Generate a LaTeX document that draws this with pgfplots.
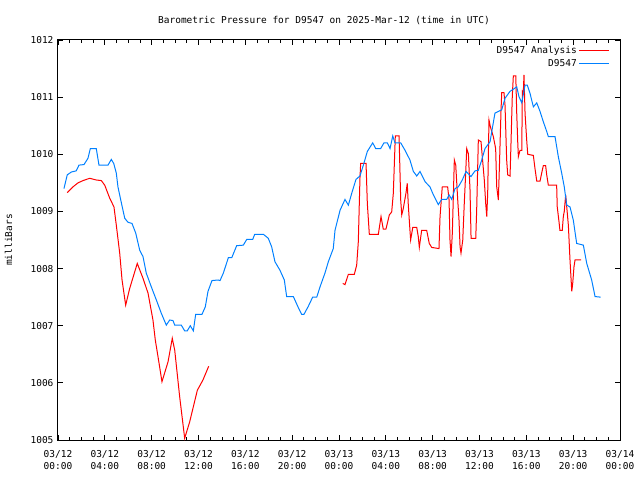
\documentclass[border=0pt]{standalone}
\usepackage{pgfplots}
\pgfplotsset{compat=1.18}
\usepackage{fontspec}
\setmainfont{DejaVu Sans Mono}
\definecolor{gpblue}{RGB}{0,128,255}
\definecolor{gpred}{RGB}{255,0,0}
\begin{document}
\begin{tikzpicture}
\path[use as bounding box] (-58pt,-40pt) rectangle (582pt,440pt);
\begin{axis}[
  at={(0pt,0pt)}, anchor=south west,
  scale only axis, width=562pt, height=400pt,
  xmin=0, xmax=48, ymin=1005, ymax=1012,
  xtick={0,4,...,48}, minor xtick={0,1,...,48},
  ytick={1005,1006,...,1012},
  xticklabels={{03/12\\00:00},{03/12\\04:00},{03/12\\08:00},{03/12\\12:00},{03/12\\16:00},{03/12\\20:00},{03/13\\00:00},{03/13\\04:00},{03/13\\08:00},{03/13\\12:00},{03/13\\16:00},{03/13\\20:00},{03/14\\00:00}},
  yticklabels={1005,1006,1007,1008,1009,1010,1011,1012},
  tick align=inside,
  major tick length=5pt, minor tick length=3pt,
  every tick/.style={black, line width=0.8pt},
  axis line style={black, line width=1pt},
  tick label style={font=\fontsize{9.5}{12}\selectfont},
  xticklabel style={align=center, yshift=-7pt},
  yticklabel style={xshift=-1pt},
  title={Barometric Pressure for D9547 on 2025-Mar-12 (time in UTC)},
  title style={at={(axis description cs:0.4733,1.033)}, anchor=center, font=\fontsize{9.5}{11}\selectfont},
  ylabel={milliBars},
  ylabel style={at={(axis description cs:-0.088,0.5)}, anchor=center, font=\fontsize{9.5}{11}\selectfont},
  legend style={draw=none, fill=none, at={(0.9822,0.99)}, anchor=north east, font=\fontsize{9.5}{11}\selectfont, row sep=0pt, inner sep=0pt, /tikz/every even column/.append style={column sep=6pt}},
  legend cell align=right,
  legend plot pos=right,
  legend image code/.code={\draw[#1] (0pt,0pt) -- (30pt,0pt);},
]
\addplot[gpred, line width=1pt] coordinates {
(0.79,1009.33)(1.28,1009.43)(1.71,1009.50)(2.14,1009.54)(2.71,1009.58)(3.27,1009.55)(3.70,1009.54)(3.99,1009.46)(4.42,1009.23)(4.78,1009.08)(4.98,1008.76)(5.27,1008.27)(5.47,1007.80)(5.78,1007.36)(6.12,1007.65)(6.77,1008.09)(7.26,1007.83)(7.69,1007.57)(8.11,1007.10)(8.31,1006.75)(8.54,1006.46)(8.88,1006.02)(9.40,1006.37)(9.76,1006.78)(9.97,1006.57)(10.39,1005.76)(10.82,1005.03)(11.25,1005.32)(11.90,1005.87)(12.38,1006.05)(12.87,1006.29)
};
\addlegendentry{D9547 Analysis}
\addplot[gpred, line width=1pt, forget plot] coordinates {
(24.32,1007.74)(24.51,1007.72)(24.80,1007.90)(25.31,1007.90)(25.51,1008.06)(25.65,1008.47)(25.79,1009.58)(25.85,1009.84)(26.31,1009.84)(26.42,1009.14)(26.59,1008.60)(27.36,1008.60)(27.50,1008.79)(27.59,1008.91)(27.78,1008.69)(28.01,1008.69)(28.30,1008.94)(28.50,1008.99)(28.64,1009.32)(28.81,1010.32)(29.13,1010.32)(29.27,1009.20)(29.36,1008.94)(29.49,1009.05)(29.72,1009.32)(29.83,1009.49)(29.92,1009.11)(30.06,1008.67)(30.12,1008.50)(30.30,1008.72)(30.64,1008.72)(30.77,1008.56)(30.86,1008.37)(31.06,1008.67)(31.49,1008.67)(31.71,1008.44)(31.92,1008.37)(32.54,1008.35)(32.63,1008.91)(32.82,1009.43)(33.28,1009.43)(33.40,1009.20)(33.48,1008.50)(33.57,1008.21)(33.68,1008.62)(33.85,1009.90)(33.97,1009.81)(34.14,1009.20)(34.25,1008.85)(34.34,1008.38)(34.42,1008.27)(34.57,1008.50)(34.70,1009.14)(34.82,1009.67)(34.91,1010.10)(35.05,1010.01)(35.19,1009.38)(35.28,1008.53)(35.68,1008.53)(35.76,1009.03)(35.90,1010.25)(36.13,1010.22)(36.41,1009.55)(36.53,1009.14)(36.62,1008.91)(36.70,1009.32)(36.75,1009.90)(36.81,1010.60)(36.93,1010.48)(37.18,1010.31)(37.38,1010.10)(37.47,1009.43)(37.61,1009.20)(37.70,1009.78)(37.84,1010.78)(37.90,1011.08)(38.09,1011.08)(38.18,1010.86)(38.32,1009.90)(38.41,1009.64)(38.61,1009.62)(38.69,1010.19)(38.80,1011.01)(38.89,1011.37)(39.10,1011.37)(39.18,1010.72)(39.27,1010.19)(39.32,1009.96)(39.46,1010.07)(39.61,1010.07)(39.66,1011.10)(39.74,1011.07)(39.80,1011.39)(39.89,1010.72)(40.03,1010.25)(40.12,1010.00)(40.60,1009.98)(40.74,1009.75)(40.89,1009.53)(41.17,1009.53)(41.31,1009.67)(41.45,1009.80)(41.65,1009.80)(41.74,1009.64)(41.88,1009.46)(42.59,1009.46)(42.64,1009.08)(42.79,1008.82)(42.87,1008.67)(43.07,1008.67)(43.16,1008.91)(43.24,1009.00)(43.36,1009.29)(43.45,1009.08)(43.59,1008.76)(43.73,1008.15)(43.88,1007.60)(43.96,1007.74)(44.07,1008.03)(44.16,1008.15)(44.67,1008.15)
};
\addplot[gpblue, line width=1pt] coordinates {
(0.51,1009.40)(0.79,1009.64)(1.14,1009.69)(1.56,1009.71)(1.79,1009.81)(2.22,1009.82)(2.56,1009.93)(2.76,1010.10)(3.27,1010.10)(3.50,1009.81)(4.27,1009.81)(4.55,1009.91)(4.76,1009.84)(4.98,1009.67)(5.12,1009.43)(5.36,1009.20)(5.70,1008.88)(5.98,1008.81)(6.32,1008.79)(6.64,1008.62)(6.98,1008.32)(7.26,1008.21)(7.54,1007.92)(7.97,1007.68)(8.40,1007.45)(8.82,1007.22)(9.25,1007.01)(9.54,1007.10)(9.82,1007.09)(9.97,1007.01)(10.53,1007.01)(10.82,1006.91)(11.04,1006.91)(11.30,1007.00)(11.56,1006.91)(11.76,1007.20)(12.30,1007.20)(12.58,1007.33)(12.81,1007.60)(13.15,1007.79)(13.67,1007.80)(13.84,1007.79)(14.12,1007.92)(14.55,1008.19)(14.84,1008.19)(15.26,1008.40)(15.83,1008.41)(16.12,1008.51)(16.63,1008.51)(16.80,1008.60)(17.54,1008.60)(17.96,1008.53)(18.25,1008.38)(18.53,1008.12)(18.96,1007.97)(19.33,1007.80)(19.53,1007.51)(20.10,1007.51)(20.52,1007.32)(20.81,1007.20)(21.01,1007.20)(21.38,1007.34)(21.75,1007.50)(22.10,1007.50)(22.38,1007.68)(22.80,1007.92)(23.09,1008.12)(23.51,1008.35)(23.66,1008.67)(24.09,1009.02)(24.51,1009.21)(24.80,1009.11)(25.09,1009.32)(25.45,1009.56)(25.79,1009.62)(26.08,1009.81)(26.42,1010.05)(26.88,1010.20)(27.13,1010.10)(27.56,1010.10)(27.84,1010.20)(28.13,1010.20)(28.36,1010.10)(28.59,1010.32)(28.78,1010.20)(29.27,1010.20)(29.64,1010.07)(30.06,1009.90)(30.35,1009.70)(30.64,1009.62)(30.92,1009.70)(31.35,1009.52)(31.77,1009.43)(32.06,1009.29)(32.48,1009.12)(32.77,1009.21)(33.20,1009.21)(33.40,1009.29)(33.63,1009.21)(33.91,1009.40)(34.19,1009.43)(34.53,1009.55)(34.85,1009.70)(35.27,1009.61)(35.62,1009.71)(35.90,1009.72)(36.19,1009.90)(36.47,1010.10)(36.90,1010.22)(37.32,1010.72)(37.90,1010.78)(38.18,1010.98)(38.60,1011.10)(38.97,1011.15)(39.18,1011.18)(39.37,1011.01)(39.61,1010.90)(39.89,1011.21)(40.08,1011.21)(40.31,1011.07)(40.60,1010.83)(40.89,1010.90)(41.17,1010.75)(41.45,1010.57)(41.74,1010.40)(41.88,1010.31)(42.45,1010.31)(42.73,1009.96)(43.02,1009.67)(43.24,1009.43)(43.45,1009.11)(43.73,1009.08)(44.01,1008.85)(44.30,1008.44)(44.87,1008.41)(45.16,1008.09)(45.58,1007.80)(45.87,1007.51)(46.35,1007.50)
};
\addlegendentry{D9547}
\end{axis}
\end{tikzpicture}
\end{document}
